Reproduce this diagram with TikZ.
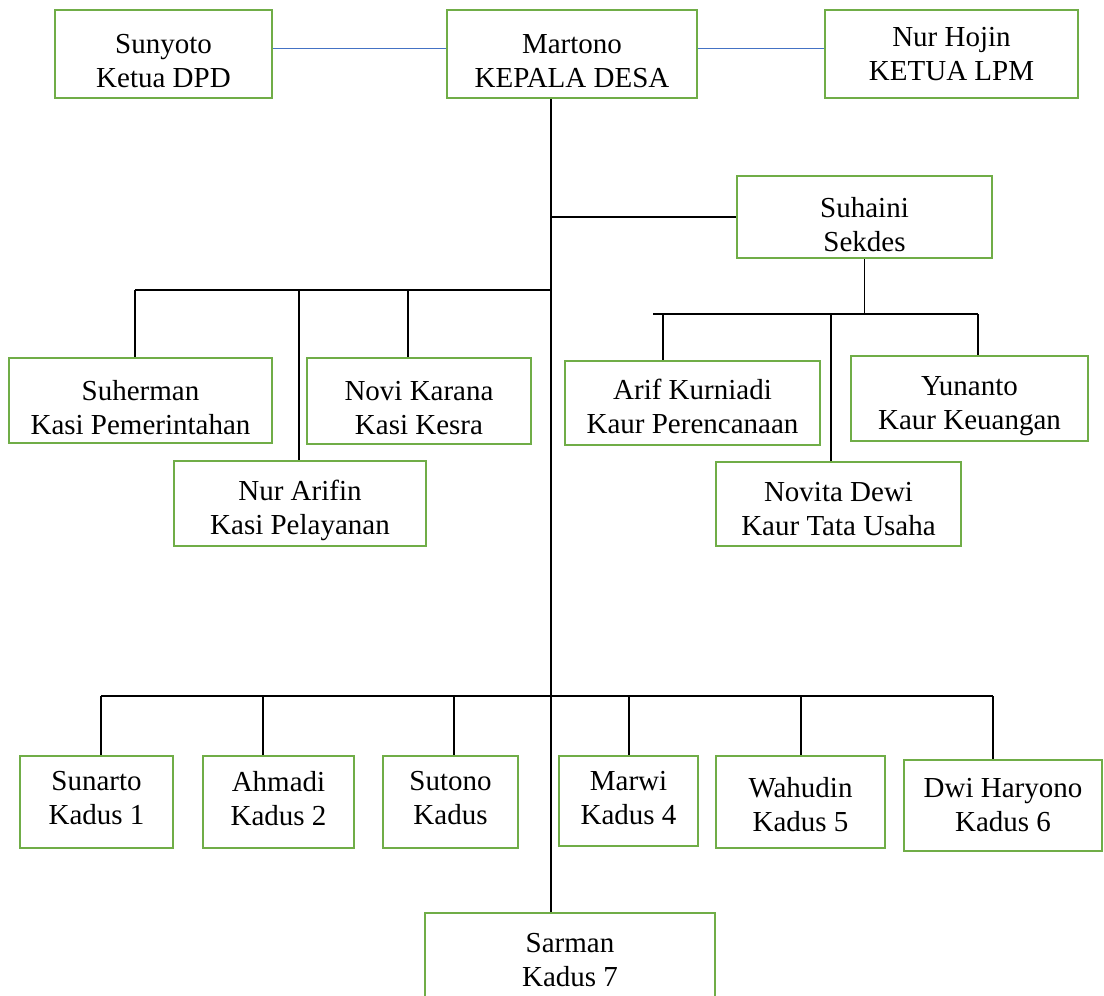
\documentclass[tikz,border=0pt]{standalone}
\usepackage{fontspec}
\setmainfont{Liberation Serif}
\usepackage{xcolor}
\usepackage{tikz}
\definecolor{boxgreen}{RGB}{112,173,71}
\definecolor{sideblue}{RGB}{68,114,196}

\begin{document}
\begin{tikzpicture}[x=1pt, y=-1pt]
                \tikzstyle{person} = [rectangle, draw=boxgreen, line width=2.5pt, align=center, inner sep=0pt, font=\fontsize{29}{34}\selectfont]
                \tikzstyle{textdown} = [execute at begin node={\rule{0pt}{#1}}]
                \tikzstyle{textup} = [execute at end node={\rule[-#1]{0pt}{0pt}}]
                \tikzstyle{link} = [line width=1.2pt]
                \tikzstyle{side} = [draw=sideblue, line width=1pt]

                \useasboundingbox (0,0) rectangle (1104,996);

                % pimpinan desa
                \node (dpd) [person, textdown=68pt, minimum width=217pt, minimum height=88pt] at (163.5,54) {Sunyoto\\Ketua DPD};
                \node (kades) [person, textdown=68pt, minimum width=250pt, minimum height=88pt] at (572,54) {Martono\\KEPALA DESA};
                \node (lpm) [person, minimum width=253pt, minimum height=88pt] at (951.5,54) {Nur Hojin\\KETUA LPM};
                \node (sekdes) [person, textdown=70pt, minimum width=255pt, minimum height=82pt] at (864.5,217) {Suhaini\\Sekdes};

                % kasi
                \node (suherman) [person, textdown=68pt, minimum width=263pt, minimum height=85pt] at (140.5,400.5) {Suherman\\Kasi Pemerintahan};
                \node (novi) [person, textdown=68pt, minimum width=224pt, minimum height=86pt] at (419,401) {Novi Karana\\Kasi Kesra};
                \node (arifin) [person, textdown=69pt, minimum width=252pt, minimum height=85pt] at (300,503.5) {Nur Arifin\\Kasi Pelayanan};

                % kaur
                \node (arif) [person, textdown=62pt, minimum width=255pt, minimum height=84pt] at (692.5,403) {Arif Kurniadi\\Kaur Perencanaan};
                \node (yunanto) [person, textdown=68pt, minimum width=237pt, minimum height=85pt] at (969.5,398.5) {Yunanto\\Kaur Keuangan};
                \node (novita) [person, textdown=63pt, minimum width=245pt, minimum height=84pt] at (838.5,504) {Novita Dewi\\Kaur Tata Usaha};

                % kadus
                \node (sunarto) [person, textup=8pt, minimum width=153pt, minimum height=92pt] at (96.5,802) {Sunarto\\Kadus 1};
                \node (ahmadi) [person, textup=8pt, minimum width=151pt, minimum height=92pt] at (278.5,802) {Ahmadi\\Kadus 2};
                \node (sutono) [person, textup=8pt, minimum width=135pt, minimum height=92pt] at (450.5,802) {Sutono\\Kadus};
                \node (marwi) [person, textup=6pt, minimum width=139pt, minimum height=90pt] at (628.5,801) {Marwi\\Kadus 4};
                \node (wahudin) [person, textdown=59pt, minimum width=169pt, minimum height=92pt] at (800.5,802) {Wahudin\\Kadus 5};
                \node (dwi) [person, minimum width=198pt, minimum height=91pt] at (1003,805.5) {Dwi Haryono\\Kadus 6};
                \node (sarman) [person, minimum width=290pt, minimum height=94pt] at (570,960) {Sarman\\Kadus 7};

                \coordinate (trunk) at (551,0);
                \coordinate (kasibar) at (135,290);
                \coordinate (kaurbar) at (653,314);
                \coordinate (kaurend) at (978,314);
                \coordinate (kadusbar) at (101,696);
                \coordinate (kadusend) at (993,696);

                \draw [side] ([yshift=6pt]dpd.east) -- ([yshift=6pt]kades.west);
                \draw [side] ([yshift=6pt]kades.east) -- ([yshift=6pt]lpm.west);
                \draw [link] (kades.south -| trunk) -- (sarman.north -| trunk);
                \draw [link] (trunk |- sekdes.west) -- (sekdes.west);

                \draw [link] (kasibar) -- (kasibar -| trunk);
                \foreach \x/\n in {135/suherman, 299/arifin, 408/novi}
                    {\coordinate (drop) at (\x,290);
                     \draw [link] (drop) -- (drop |- \n.north);}

                \draw [link] (sekdes.south) -- (sekdes.south |- kaurbar);
                \draw [link] (kaurbar) -- (kaurend);
                \foreach \x/\n in {663/arif, 831/novita, 978/yunanto}
                    {\coordinate (drop) at (\x,314);
                     \draw [link] (drop) -- (drop |- \n.north);}

                \draw [link] (kadusbar) -- (kadusend);
                \foreach \x/\n in {101/sunarto, 263/ahmadi, 454/sutono, 629/marwi, 801/wahudin, 993/dwi}
                    {\coordinate (drop) at (\x,696);
                     \draw [link] (drop) -- (drop |- \n.north);}
            \end{tikzpicture}
\end{document}
